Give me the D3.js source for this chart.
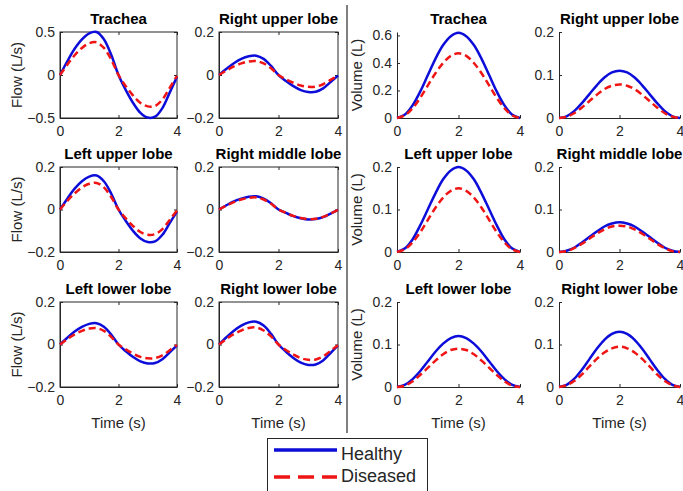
<!DOCTYPE html>
<html>
<head>
<meta charset="utf-8">
<title>Airway flow and volume</title>
<script src="https://cdn.jsdelivr.net/npm/d3@7"></script>
<style>
  body { margin: 0; background: #fff; }
  svg { font-family: "Liberation Sans", Arial, Helvetica, sans-serif; }
  .tick text { font-size: 14px; fill: #262626; }
  .tick line { stroke: #262626; }
  .title { font-size: 15px; font-weight: bold; fill: #000; text-anchor: middle; }
  .label { font-size: 15px; fill: #262626; text-anchor: middle; }
</style>
</head>
<body>
<script>
// sample times (s)
var time = [0, 0.25, 0.5, 0.75, 1, 1.25, 1.5, 1.75, 2, 2.25, 2.5, 2.75, 3, 3.25, 3.5, 3.75, 4];
var timeTicks = [0, 2, 4];

// flow (L/s)
var tracheaFlowH = [0, 0.16, 0.305, 0.415, 0.485, 0.50, 0.415, 0.235, 0, -0.175, -0.325, -0.44, -0.495, -0.485, -0.385, -0.205, -0.02];
var tracheaFlowD = [0, 0.12, 0.23, 0.315, 0.37, 0.38, 0.315, 0.18, 0, -0.13, -0.24, -0.325, -0.365, -0.36, -0.285, -0.15, -0.01];
var rulFlowH = [0, 0.029, 0.055, 0.075, 0.087, 0.09, 0.075, 0.042, 0, -0.028, -0.052, -0.07, -0.079, -0.078, -0.062, -0.033, -0.003];
var rulFlowD = [0, 0.021, 0.04, 0.054, 0.063, 0.065, 0.054, 0.031, 0, -0.02, -0.036, -0.049, -0.055, -0.054, -0.043, -0.023, -0.002];
var lulFlowH = [0, 0.051, 0.098, 0.133, 0.155, 0.16, 0.133, 0.075, 0, -0.054, -0.101, -0.136, -0.153, -0.15, -0.119, -0.064, -0.01];
var lulFlowD = [0, 0.04, 0.076, 0.104, 0.121, 0.125, 0.104, 0.059, 0, -0.042, -0.078, -0.106, -0.119, -0.116, -0.092, -0.049, -0.005];
var rmlFlowH = [0, 0.02, 0.038, 0.051, 0.06, 0.062, 0.051, 0.029, 0, -0.016, -0.031, -0.041, -0.047, -0.045, -0.036, -0.019, -0.002];
var rmlFlowD = [0, 0.018, 0.035, 0.047, 0.055, 0.057, 0.047, 0.027, 0, -0.016, -0.03, -0.04, -0.045, -0.044, -0.035, -0.019, -0.002];
var lllFlowH = [0, 0.032, 0.061, 0.083, 0.097, 0.1, 0.083, 0.047, 0, -0.032, -0.059, -0.079, -0.089, -0.087, -0.069, -0.037, -0.004];
var lllFlowD = [0, 0.025, 0.047, 0.064, 0.075, 0.077, 0.064, 0.036, 0, -0.023, -0.043, -0.058, -0.065, -0.064, -0.051, -0.027, -0.002];
var rllFlowH = [0, 0.034, 0.065, 0.089, 0.104, 0.107, 0.089, 0.05, 0, -0.034, -0.063, -0.085, -0.096, -0.094, -0.075, -0.04, -0.004];
var rllFlowD = [0, 0.026, 0.049, 0.066, 0.078, 0.08, 0.066, 0.038, 0, -0.026, -0.047, -0.064, -0.072, -0.071, -0.056, -0.03, -0.003];

// volume (L)
var tracheaVolH = [0, 0.024, 0.09, 0.19, 0.31, 0.43, 0.53, 0.595, 0.62, 0.595, 0.53, 0.43, 0.31, 0.19, 0.09, 0.024, 0];
var tracheaVolD = [0, 0.018, 0.069, 0.145, 0.235, 0.325, 0.40, 0.452, 0.47, 0.452, 0.40, 0.325, 0.235, 0.145, 0.069, 0.018, 0];
var rulVolH = [0, 0.004, 0.016, 0.034, 0.055, 0.076, 0.094, 0.106, 0.11, 0.106, 0.094, 0.076, 0.055, 0.034, 0.016, 0.004, 0];
var rulVolD = [0, 0.003, 0.011, 0.024, 0.039, 0.054, 0.067, 0.075, 0.078, 0.075, 0.067, 0.054, 0.039, 0.024, 0.011, 0.003, 0];
var lulVolH = [0, 0.008, 0.029, 0.062, 0.1, 0.138, 0.171, 0.192, 0.2, 0.192, 0.171, 0.138, 0.1, 0.062, 0.029, 0.008, 0];
var lulVolD = [0, 0.006, 0.022, 0.046, 0.075, 0.104, 0.128, 0.144, 0.15, 0.144, 0.128, 0.104, 0.075, 0.046, 0.022, 0.006, 0];
var rmlVolH = [0, 0.003, 0.01, 0.022, 0.035, 0.048, 0.06, 0.067, 0.07, 0.067, 0.06, 0.048, 0.035, 0.022, 0.01, 0.003, 0];
var rmlVolD = [0, 0.002, 0.009, 0.019, 0.031, 0.043, 0.053, 0.06, 0.062, 0.06, 0.053, 0.043, 0.031, 0.019, 0.009, 0.002, 0];
var lllVolH = [0, 0.005, 0.018, 0.037, 0.06, 0.083, 0.102, 0.115, 0.12, 0.115, 0.102, 0.083, 0.06, 0.037, 0.018, 0.005, 0];
var lllVolD = [0, 0.003, 0.013, 0.028, 0.045, 0.062, 0.077, 0.087, 0.09, 0.087, 0.077, 0.062, 0.045, 0.028, 0.013, 0.003, 0];
var rllVolH = [0, 0.005, 0.019, 0.04, 0.065, 0.09, 0.111, 0.125, 0.13, 0.125, 0.111, 0.09, 0.065, 0.04, 0.019, 0.005, 0];
var rllVolD = [0, 0.004, 0.014, 0.029, 0.048, 0.066, 0.081, 0.091, 0.095, 0.091, 0.081, 0.066, 0.048, 0.029, 0.014, 0.004, 0];

var legendLabels = ["Healthy", "Diseased"];

var width = 683, height = 491;
var blue = "#0d0dd9", red = "#f01515", axisColor = "#262626";

// plot boxes in pixels
var cols = [[60, 177], [219, 338], [397, 520], [559, 680]];
var rows = [[32, 118], [167, 252], [302, 387]];

var panels = [
  { title: "Trachea", col: 0, row: 0, kind: "flow", h: tracheaFlowH, d: tracheaFlowD, y: [-0.5, 0.5], ticks: [-0.5, 0, 0.5] },
  { title: "Right upper lobe", col: 1, row: 0, kind: "flow", h: rulFlowH, d: rulFlowD, y: [-0.2, 0.2], ticks: [-0.2, 0, 0.2] },
  { title: "Left upper lobe", col: 0, row: 1, kind: "flow", h: lulFlowH, d: lulFlowD, y: [-0.2, 0.2], ticks: [-0.2, 0, 0.2] },
  { title: "Right middle lobe", col: 1, row: 1, kind: "flow", h: rmlFlowH, d: rmlFlowD, y: [-0.2, 0.2], ticks: [-0.2, 0, 0.2] },
  { title: "Left lower lobe", col: 0, row: 2, kind: "flow", h: lllFlowH, d: lllFlowD, y: [-0.2, 0.2], ticks: [-0.2, 0, 0.2] },
  { title: "Right lower lobe", col: 1, row: 2, kind: "flow", h: rllFlowH, d: rllFlowD, y: [-0.2, 0.2], ticks: [-0.2, 0, 0.2] },
  { title: "Trachea", col: 2, row: 0, kind: "volume", h: tracheaVolH, d: tracheaVolD, y: [0, 0.625], ticks: [0, 0.2, 0.4, 0.6] },
  { title: "Right upper lobe", col: 3, row: 0, kind: "volume", h: rulVolH, d: rulVolD, y: [0, 0.2], ticks: [0, 0.1, 0.2] },
  { title: "Left upper lobe", col: 2, row: 1, kind: "volume", h: lulVolH, d: lulVolD, y: [0, 0.2], ticks: [0, 0.1, 0.2] },
  { title: "Right middle lobe", col: 3, row: 1, kind: "volume", h: rmlVolH, d: rmlVolD, y: [0, 0.2], ticks: [0, 0.1, 0.2] },
  { title: "Left lower lobe", col: 2, row: 2, kind: "volume", h: lllVolH, d: lllVolD, y: [0, 0.2], ticks: [0, 0.1, 0.2] },
  { title: "Right lower lobe", col: 3, row: 2, kind: "volume", h: rllVolH, d: rllVolD, y: [0, 0.2], ticks: [0, 0.1, 0.2] }
];

var svg = d3.select("body")
  .append("svg")
  .attr("width", width)
  .attr("height", height);

var fmt = function(v) { return v === 0 ? "0" : d3.format("")(v); };

panels.forEach(function(p) {
  var x0 = cols[p.col][0], x1 = cols[p.col][1];
  var y0 = rows[p.row][0], y1 = rows[p.row][1];

  var x = d3.scaleLinear().domain([0, 4]).range([x0, x1]);
  var y = d3.scaleLinear().domain(p.y).range([y1, y0]);

  var g = svg.append("g");

  g.append("g")
    .attr("transform", "translate(0," + y1 + ")")
    .call(d3.axisBottom(x).tickValues(timeTicks).tickFormat(fmt)
      .tickSizeInner(-3).tickSizeOuter(0).tickPadding(8));
  g.append("g")
    .attr("transform", "translate(" + x0 + ",0)")
    .call(d3.axisLeft(y).tickValues(p.ticks).tickFormat(fmt)
      .tickSizeInner(-3).tickSizeOuter(0).tickPadding(5));
  g.selectAll(".domain").attr("stroke", axisColor);

  if (p.kind === "flow") {
    g.append("rect")
      .attr("x", x0).attr("y", y0)
      .attr("width", x1 - x0).attr("height", y1 - y0)
      .attr("fill", "none")
      .attr("stroke", axisColor);
    g.append("g")
      .attr("transform", "translate(0," + y0 + ")")
      .call(d3.axisTop(x).tickValues(timeTicks).tickFormat("")
        .tickSizeInner(-3).tickSizeOuter(0))
      .select(".domain").remove();
    g.append("g")
      .attr("transform", "translate(" + x1 + ",0)")
      .call(d3.axisRight(y).tickValues(p.ticks).tickFormat("")
        .tickSizeInner(-3).tickSizeOuter(0))
      .select(".domain").remove();
  }

  var line = d3.line()
    .x(function(d, i) { return x(time[i]); })
    .y(function(d) { return y(d); })
    .curve(d3.curveCatmullRom.alpha(0.5));

  g.append("path")
    .datum(p.h)
    .attr("d", line)
    .attr("fill", "none")
    .attr("stroke", blue)
    .attr("stroke-width", 2.5);

  g.append("path")
    .datum(p.d)
    .attr("d", line)
    .attr("fill", "none")
    .attr("stroke", red)
    .attr("stroke-width", 2.5)
    .attr("stroke-dasharray", "7,4");

  g.append("text")
    .attr("class", "title")
    .attr("x", (x0 + x1) / 2)
    .attr("y", y0 - 8.5)
    .text(p.title);

  if (p.col === 0 || p.col === 2) {
    var lx = p.col === 0 ? 22 : 362;
    g.append("text")
      .attr("class", "label")
      .attr("transform", "translate(" + lx + "," + (y0 + y1) / 2 + ") rotate(-90)")
      .text(p.kind === "flow" ? "Flow (L/s)" : "Volume (L)");
  }
  if (p.row === 2) {
    g.append("text")
      .attr("class", "label")
      .attr("x", (x0 + x1) / 2)
      .attr("y", 427.5)
      .text("Time (s)");
  }
});

// divider between flow and volume
svg.append("line")
  .attr("x1", 347).attr("x2", 347)
  .attr("y1", 5).attr("y2", 433)
  .attr("stroke", "#000")
  .attr("stroke-width", 1);

// legend
var legend = svg.append("g");
legend.append("rect")
  .attr("x", 267.5).attr("y", 438.5)
  .attr("width", 160).attr("height", 70)
  .attr("fill", "#fff")
  .attr("stroke", axisColor);

var legendY = [450, 477];
var legendBase = [460, 482];
legendLabels.forEach(function(name, i) {
  legend.append("line")
    .attr("x1", 274).attr("x2", 337)
    .attr("y1", legendY[i]).attr("y2", legendY[i])
    .attr("stroke", i === 0 ? blue : red)
    .attr("stroke-width", 3.5)
    .attr("stroke-dasharray", i === 0 ? null : "16,8");
  legend.append("text")
    .attr("x", 341)
    .attr("y", legendBase[i])
    .attr("font-size", 18)
    .attr("fill", axisColor)
    .text(name);
});
</script>
</body>
</html>
